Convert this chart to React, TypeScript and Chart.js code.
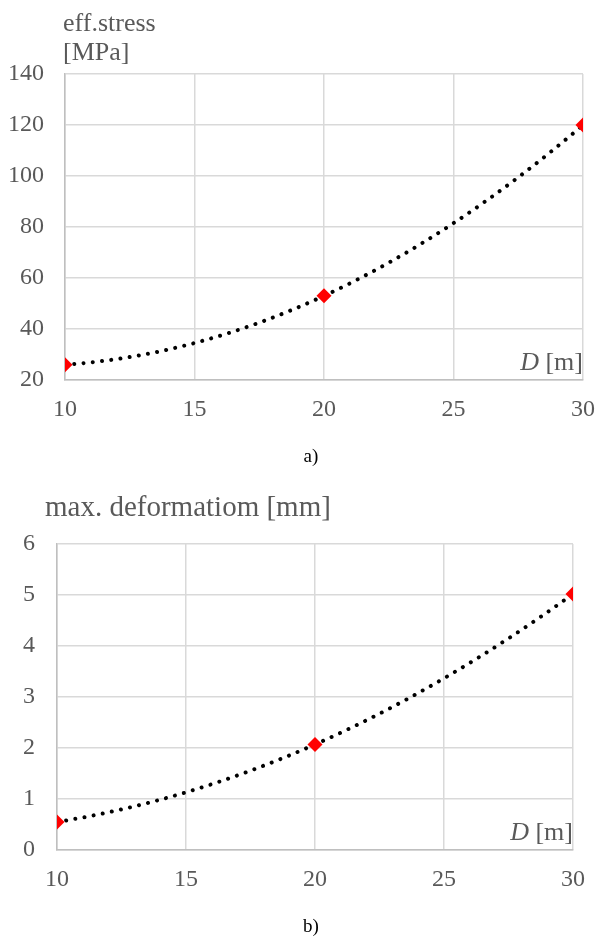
import React, { useEffect, useRef } from "react";
import { Chart, registerables } from "chart.js";

Chart.register(...registerables);

// Tunnel depth D [m]
const depths = [10, 20, 30];
// Effective stress [MPa] at each depth
const effStress = [26, 53, 120];
// Maximum deformation [mm] at each depth
const maxDeformation = [0.55, 2.07, 5.02];

const xTickValues = [10, 15, 20, 25, 30];
const stressTickValues = [20, 40, 60, 80, 100, 120, 140];
const deformTickValues = [0, 1, 2, 3, 4, 5, 6];

const stressTitle = ["eff.stress", "[MPa]"];
const deformTitle = ["max. deformatiom [mm]"];
const axisNote = ["D", " [m]"];

const SERIF = "'Liberation Serif', 'Times New Roman', serif";
const GREY = "#595959";
const GRID = "#d9d9d9";

type PanelProps = {
  values: number[];
  yTicks: number[];
  title: string[];
  titleSize: number;
  titleBaseline: number;
  titleLineGap: number;
  titleX: number;
  caption: string;
  captionY: number;
  top: number;
  height: number;
  plotLeft: number;
  plotTop: number;
  plotBottom: number;
  plotRight: number;
  yPad: number;
};

// Second-order trend through the three measured points: the bezier control
// points of the trend line are set from the parabola's tangents (pixel space).
const quadTrendPlugin = {
  id: "quadTrend",
  beforeDatasetDraw(chart: any, args: any) {
    const ds = chart.data.datasets[args.index];
    if (ds.label !== "trend") return;
    const meta = args.meta;
    const line = meta.dataset;
    line.updateControlPoints(chart.chartArea, "x");
    const pts = meta.data;
    if (pts.length !== 3) return;
    const [a, b, c] = pts;
    const h1 = b.x - a.x;
    const h2 = c.x - b.x;
    const d1 = (b.y - a.y) / h1;
    const d2 = (c.y - b.y) / h2;
    const k = (d2 - d1) / (h1 + h2);
    const m0 = d1 - k * h1;
    const m1 = d1 + k * h1;
    const m2 = d1 + k * (h1 + 2 * h2);
    a.cp2x = a.x + h1 / 3;
    a.cp2y = a.y + (m0 * h1) / 3;
    b.cp1x = b.x - h1 / 3;
    b.cp1y = b.y - (m1 * h1) / 3;
    b.cp2x = b.x + h2 / 3;
    b.cp2y = b.y + (m1 * h2) / 3;
    c.cp1x = c.x - h2 / 3;
    c.cp1y = c.y - (m2 * h2) / 3;
    line._path = undefined;
  },
};

const textPlugin = {
  id: "panelText",
  afterDraw(chart: any, _args: any, opts: any) {
    const { ctx, chartArea } = chart;
    ctx.save();
    // axis title above the plot
    ctx.fillStyle = GREY;
    ctx.textAlign = "left";
    ctx.textBaseline = "alphabetic";
    ctx.font = `${opts.titleSize}px ${SERIF}`;
    opts.title.forEach((line: string, i: number) => {
      ctx.fillText(line, opts.titleX, opts.titleBaseline + i * opts.titleLineGap);
    });
    // x axis note inside the plot, bottom right
    ctx.font = `26px ${SERIF}`;
    const rest = axisNote[1];
    const restW = ctx.measureText(rest).width;
    const baseY = chartArea.bottom - 10;
    const rightX = chartArea.right;
    ctx.fillText(rest, rightX - restW, baseY);
    ctx.font = `italic 26px ${SERIF}`;
    const dW = ctx.measureText(axisNote[0]).width;
    ctx.fillText(axisNote[0], rightX - restW - dW, baseY);
    // panel caption
    ctx.fillStyle = "#000000";
    ctx.font = `19px ${SERIF}`;
    ctx.textAlign = "center";
    ctx.fillText(opts.caption, 311, opts.captionY);
    ctx.restore();
  },
};

function Panel(p: PanelProps) {
  const ref = useRef<HTMLCanvasElement | null>(null);
  useEffect(() => {
    let chart: Chart | null = null;
    let cancelled = false;
    const build = () => {
      if (cancelled || !ref.current) return;
      const yMin = p.yTicks[0];
      const yMax = p.yTicks[p.yTicks.length - 1];
      const pts = depths.map((d, i) => ({ x: d, y: p.values[i] }));
      chart = new Chart(ref.current, {
        type: "scatter",
        data: {
          datasets: [
            {
              label: "marks",
              data: pts,
              showLine: false,
              pointStyle: "rectRot",
              pointRadius: 7.5,
              backgroundColor: "#ff0000",
              borderColor: "#ff0000",
              borderWidth: 0,
              order: 0,
            },
            {
              label: "trend",
              data: pts,
              showLine: true,
              pointRadius: 0,
              borderColor: "#000000",
              borderWidth: 4,
              borderDash: [0.001, 9.3],
              borderCapStyle: "round",
              tension: 0.4,
              order: 1,
            },
          ],
        },
        options: {
          animation: false,
          responsive: false,
          maintainAspectRatio: false,
          layout: {
            padding: {
              left: 0,
              top: p.plotTop,
              right: 595 - p.plotRight,
              bottom: p.height - p.plotBottom - 40,
            },
          },
          plugins: {
            legend: { display: false },
            tooltip: { enabled: false },
            panelText: {
              title: p.title,
              titleSize: p.titleSize,
              titleBaseline: p.titleBaseline,
              titleLineGap: p.titleLineGap,
              titleX: p.titleX,
              caption: p.caption,
              captionY: p.captionY,
            },
          } as any,
          scales: {
            x: {
              type: "linear",
              min: xTickValues[0],
              max: xTickValues[xTickValues.length - 1],
              afterBuildTicks: (axis: any) => {
                axis.ticks = xTickValues.map((v) => ({ value: v }));
              },
              afterFit: (axis: any) => {
                axis.height = 40;
                axis.paddingLeft = 0;
                axis.paddingRight = 0;
              },
              grid: { color: GRID, lineWidth: 1.5, drawTicks: false },
              border: { color: "#bfbfbf", width: 1.5 },
              ticks: {
                color: GREY,
                font: { family: SERIF, size: 24 },
                padding: 15,
                maxRotation: 0,
              },
            },
            y: {
              type: "linear",
              min: yMin,
              max: yMax,
              afterBuildTicks: (axis: any) => {
                axis.ticks = p.yTicks.map((v) => ({ value: v }));
              },
              afterFit: (axis: any) => {
                axis.width = p.plotLeft;
                axis.paddingTop = 0;
                axis.paddingBottom = 0;
              },
              grid: { color: GRID, lineWidth: 1.5, drawTicks: false },
              border: { color: "#bfbfbf", width: 1.5 },
              ticks: {
                color: GREY,
                font: { family: SERIF, size: 24 },
                padding: p.yPad,
              },
            },
          },
        },
        plugins: [quadTrendPlugin, textPlugin],
      });
    };
    const fonts = (document as any).fonts;
    if (fonts && fonts.load) {
      Promise.all([
        fonts.load(`24px "Liberation Serif"`),
        fonts.load(`italic 26px "Liberation Serif"`),
      ]).then(build, build);
    } else {
      build();
    }
    return () => {
      cancelled = true;
      if (chart) chart.destroy();
    };
  }, []);
  return (
    <canvas
      ref={ref}
      width={595}
      height={p.height}
      style={{ position: "absolute", left: 0, top: p.top, width: 595, height: p.height }}
    />
  );
}

export default function App() {
  return (
    <div style={{ position: "absolute", left: 0, top: 0, width: 595, height: 938, background: "#ffffff" }}>
      <Panel
        values={effStress}
        yTicks={stressTickValues}
        title={stressTitle}
        titleSize={26}
        titleBaseline={31}
        titleLineGap={29}
        titleX={63}
        caption="a)"
        captionY={462}
        top={0}
        height={470}
        plotLeft={65}
        plotTop={74}
        plotBottom={380}
        plotRight={583}
        yPad={21}
      />
      <Panel
        values={maxDeformation}
        yTicks={deformTickValues}
        title={deformTitle}
        titleSize={29}
        titleBaseline={46}
        titleLineGap={0}
        titleX={45}
        caption="b)"
        captionY={462}
        top={470}
        height={468}
        plotLeft={57}
        plotTop={74}
        plotBottom={380}
        plotRight={573}
        yPad={22}
      />
    </div>
  );
}
